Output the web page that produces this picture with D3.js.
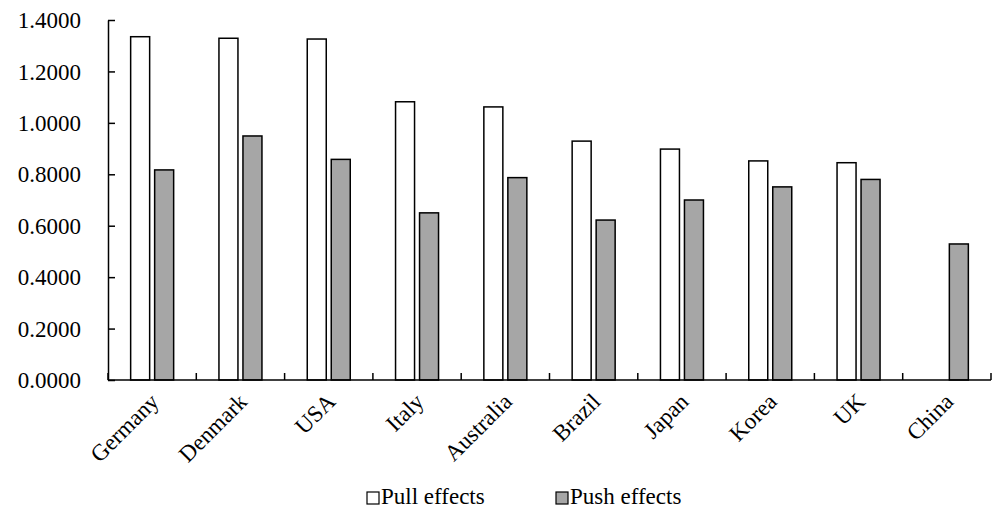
<!DOCTYPE html>
<html>
<head>
<meta charset="utf-8">
<script src="https://cdn.jsdelivr.net/npm/d3@7"></script>
</head>
<body style="margin:0">
<svg id="chart" width="992" height="510" font-family="Times New Roman, Liberation Serif, serif"></svg>
<script>
var countries = ["Germany", "Denmark", "USA", "Italy", "Australia", "Brazil", "Japan", "Korea", "UK", "China"];
var pullEffects = [1.335, 1.329, 1.326, 1.082, 1.062, 0.929, 0.898, 0.852, 0.845, null];
var pushEffects = [0.817, 0.949, 0.858, 0.650, 0.787, 0.622, 0.700, 0.751, 0.780, 0.529];
var yTicks = [0, 0.2, 0.4, 0.6, 0.8, 1.0, 1.2, 1.4];
var seriesNames = ["Pull effects", "Push effects"];
var seriesFill = ["#ffffff", "#a6a6a6"];

var FONT = "Times New Roman";
var FONT_SIZE = 23;

var svg = d3.select("#chart");
var margin = { left: 108, right: 1, top: 20, bottom: 130 };
var width = 992 - margin.left - margin.right;
var height = 510 - margin.top - margin.bottom;

var g = svg.append("g")
    .attr("transform", "translate(" + margin.left + "," + margin.top + ")");

var x = d3.scaleBand().domain(countries).range([0, width]);
var y = d3.scaleLinear().domain([0, 1.4]).range([height, 0]);

var barW = 19, gap = 5;

var rows = countries.map(function (c, i) {
    return { country: c, values: [pullEffects[i], pushEffects[i]] };
});

var groups = g.selectAll("g.group")
    .data(rows)
    .enter()
    .append("g")
    .attr("class", "group")
    .attr("transform", function (d) { return "translate(" + (x(d.country) + x.bandwidth() / 2) + ",0)"; });

groups.selectAll("rect")
    .data(function (d) { return d.values.map(function (v, k) { return { v: v, k: k }; }); })
    .enter()
    .filter(function (d) { return d.v != null; })
    .append("rect")
    .attr("x", function (d) { return d.k == 0 ? -(gap / 2 + barW) : gap / 2; })
    .attr("width", barW)
    .attr("y", function (d) { return y(d.v); })
    .attr("height", function (d) { return height - y(d.v); })
    .attr("fill", function (d) { return seriesFill[d.k]; })
    .attr("stroke", "#000")
    .attr("stroke-width", 1.5);

// y axis, ticks inside
var yAxis = g.append("g")
    .call(d3.axisLeft(y).tickValues(yTicks).tickSizeInner(-7).tickSizeOuter(0)
        .tickPadding(27).tickFormat(d3.format(".4f")));
yAxis.attr("font-family", null).attr("font-size", null);
yAxis.selectAll("text")
    .attr("font-family", FONT)
    .attr("font-size", FONT_SIZE)
    .attr("fill", "#000")
    .attr("dy", "0.33em");
yAxis.select(".domain").attr("stroke-width", 1.5);
yAxis.selectAll(".tick line").attr("stroke-width", 1.5);

// x axis, ticks at band edges pointing up
var xAxis = g.append("g")
    .attr("transform", "translate(0," + height + ")");
xAxis.append("line")
    .attr("x1", 0).attr("x2", width)
    .attr("stroke", "#000").attr("stroke-width", 1.5);
xAxis.selectAll("line.tick")
    .data(countries.map(function (c) { return x(c); }).concat([width]))
    .enter()
    .append("line")
    .attr("class", "tick")
    .attr("x1", function (d) { return d; })
    .attr("x2", function (d) { return d; })
    .attr("y1", 0).attr("y2", -7)
    .attr("stroke", "#000").attr("stroke-width", 1.5);
xAxis.selectAll("text")
    .data(countries)
    .enter()
    .append("text")
    .attr("transform", function (d) {
        return "translate(" + (x(d) + x.bandwidth() / 2 + 8) + ",23) rotate(-45)";
    })
    .attr("text-anchor", "end")
    .attr("font-family", FONT)
    .attr("font-size", FONT_SIZE)
    .text(function (d) { return d; });

// legend
var legend = svg.append("g")
    .attr("transform", "translate(0,492)");
var legendX = [367, 556];
seriesNames.forEach(function (name, k) {
    legend.append("rect")
        .attr("x", legendX[k]).attr("y", 0)
        .attr("width", 12).attr("height", 12)
        .attr("fill", seriesFill[k])
        .attr("stroke", "#000").attr("stroke-width", 1.2);
    legend.append("text")
        .attr("x", legendX[k] + 14).attr("y", 12)
        .attr("font-family", FONT)
        .attr("font-size", FONT_SIZE)
        .text(name);
});
</script>
</body>
</html>
